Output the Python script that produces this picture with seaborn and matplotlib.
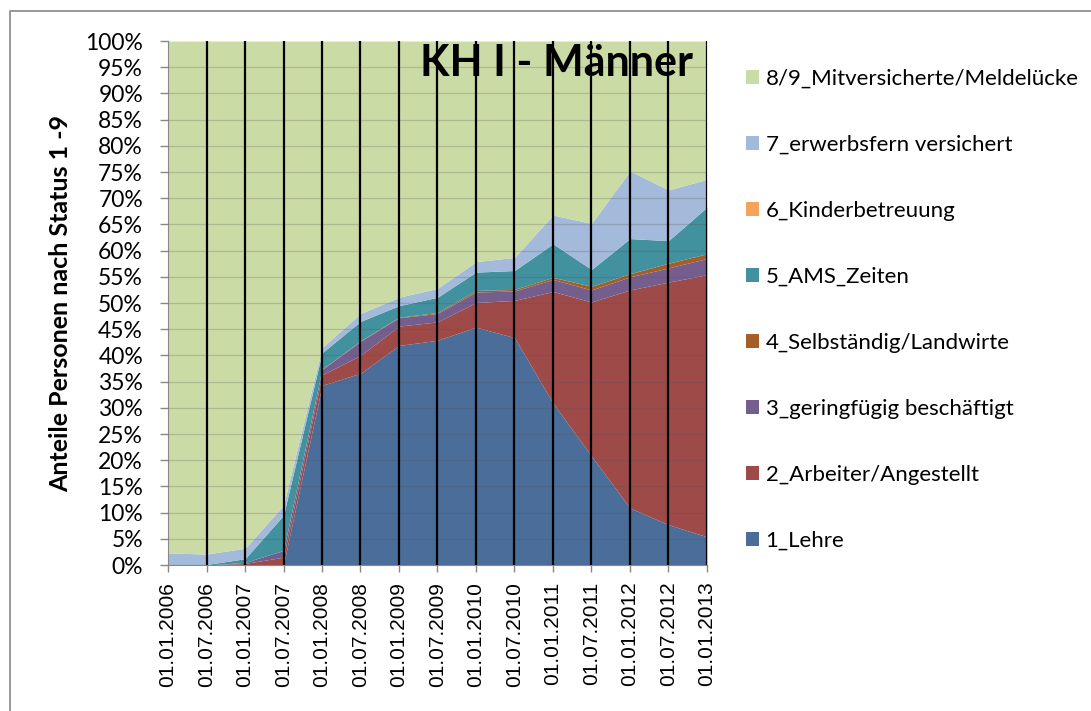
import pandas as pd
import seaborn as sns
import matplotlib.pyplot as plt
from matplotlib.patches import Patch
from matplotlib.lines import Line2D

dates = ["01.01.2006", "01.07.2006", "01.01.2007", "01.07.2007", "01.01.2008",
         "01.07.2008", "01.01.2009", "01.07.2009", "01.01.2010", "01.07.2010",
         "01.01.2011", "01.07.2011", "01.01.2012", "01.07.2012", "01.01.2013"]

lehre = [0, 0, 0, 0.1, 34.3, 36.6, 41.9, 42.9, 45.4, 43.4, 30.9, 20.8, 10.9, 7.7, 5.4]
arbeiter = [0, 0, 0.3, 1.4, 2.0, 3.4, 3.7, 3.5, 4.7, 7.1, 21.3, 29.4, 41.6, 46.3, 50.0]
geringfuegig = [0, 0, 0.2, 1.3, 1.0, 2.7, 1.6, 1.6, 2.0, 1.8, 2.3, 2.3, 2.5, 2.7, 3.1]
selbstaendig = [0, 0, 0, 0, 0.1, 0.1, 0.1, 0.2, 0.3, 0.3, 0.4, 0.7, 0.6, 0.9, 0.9]
ams = [0, 0.1, 0.7, 6.7, 3.1, 3.7, 2.2, 2.9, 3.5, 3.6, 6.4, 3.2, 6.7, 4.3, 8.9]
kinder = [0, 0, 0, 0, 0, 0, 0, 0, 0, 0, 0, 0, 0, 0, 0]
erwerbsfern = [2.3, 2.0, 2.0, 1.9, 1.0, 1.5, 1.6, 1.7, 2.0, 2.5, 5.5, 8.8, 12.9, 9.7, 5.3]

labels = ["8/9_Mitversicherte/Meldelücke", "7_erwerbsfern versichert", "6_Kinderbetreuung",
          "5_AMS_Zeiten", "4_Selbständig/Landwirte", "3_geringfügig beschäftigt",
          "2_Arbeiter/Angestellt", "1_Lehre"]
colors = ["#CBDBA6", "#A3BADB", "#F5A25D", "#42919E", "#A65E28", "#735E8E", "#9E4A48", "#4A6D99"]

series = [None, erwerbsfern, kinder, ams, selbstaendig, geringfuegig, arbeiter, lehre]
totals = [sum(vals) for vals in zip(*series[1:])]
series[0] = [100 - t for t in totals]  # rest up to 100 %

rows = []
for lab, vals in zip(labels, series):
    for i, v in enumerate(vals):
        rows.append({"pos": i, "share": v, "status": lab})
data = pd.DataFrame(rows)

sns.set_style("white")
plt.rcParams.update({"text.color": "black", "axes.labelcolor": "black",
                     "xtick.color": "black", "ytick.color": "black"})
fig = plt.figure(figsize=(10.91, 7.11), dpi=100)
ax = fig.add_axes([0.154, 0.2053, 0.494, 0.737])

sns.histplot(data=data, x="pos", weights="share", hue="status", hue_order=labels,
             palette=colors, discrete=True, element="poly", multiple="stack",
             alpha=1, linewidth=0, legend=False, ax=ax)

# grid on top of the areas, like the excel export
for yv in range(5, 100, 5):
    ax.axhline(yv, color="#555555", alpha=0.25, lw=0.9, zorder=3)
for i in range(1, len(dates)):
    ax.axvline(i, color="black", lw=1.6, zorder=4)

ax.set_xlim(0, len(dates) - 1)
ax.set_ylim(0, 100)
ax.set_xticks(range(len(dates)))
ax.set_xticklabels(dates, rotation=90, fontsize=15, family="Liberation Sans")
ax.set_yticks(range(0, 101, 5))
ax.set_yticklabels([f"{v}%" for v in range(0, 101, 5)], fontsize=16.5, family="Lato")
ax.tick_params(axis="x", length=5, width=1, color="#888888", direction="out",
               bottom=True, pad=7)
ax.tick_params(axis="y", length=6, width=1, color="#888888", direction="out",
               left=True, pad=12)
ax.set_xlabel("")
ax.set_ylabel("Anteile Personen nach Status 1 -9", fontsize=18, fontweight="bold",
              family="Lato")
ax.yaxis.set_label_coords(-0.178, 0.5)
for side in ["top", "right"]:
    ax.spines[side].set_visible(False)
for side in ["left", "bottom"]:
    ax.spines[side].set_color("#888888")

ax.text(0.974, 0.933, "KH I - Männer", transform=ax.transAxes, ha="right", va="baseline",
        fontsize=31, fontweight="bold", family="Lato", color="black", zorder=5)

handles = [Patch(facecolor=c, edgecolor="none") for c in colors]
fig.legend(handles, labels, loc="upper left", bbox_to_anchor=(0.665, 0.931),
           frameon=False, prop={"family": "Lato", "size": 16}, labelspacing=2.07,
           handlelength=0.6, handleheight=0.6, handletextpad=0.3)

# chart area frame (only left and top edge inside the picture)
fx, fy = 10 / 1091, 1 - 11 / 711
fig.add_artist(Line2D([fx, fx, 1], [0, fy, fy], transform=fig.transFigure,
                      color="#888888", lw=1.2))

fig.savefig("out.png", dpi=100)
